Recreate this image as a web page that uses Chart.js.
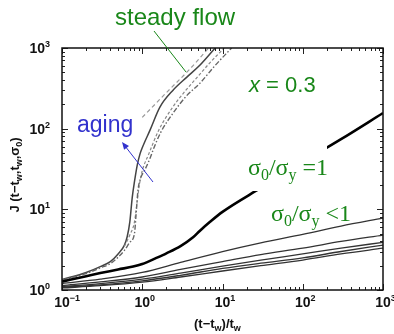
<!DOCTYPE html>
<html>
<head>
<meta charset="utf-8">
<script src="https://cdn.jsdelivr.net/npm/chart.js@4.4.1/dist/chart.umd.min.js"></script>
<style>
  html, body { margin: 0; padding: 0; background: #fff; }
  #wrap { width: 394px; height: 334px; position: relative; }
</style>
</head>
<body>
<div id="wrap"><canvas id="myChart" width="394" height="334"></canvas></div>
<script>
// time axis (t - tw)/tw and tick exponents
const xTickExp = [-1, 0, 1, 2, 3];
const yTickExp = [0, 1, 2, 3];

// sigma0/sigma_y = 1
const tYield = [0.1, 0.2, 0.3, 0.5, 0.77, 1, 1.5, 2, 3, 4.3, 5.2, 7, 10, 30, 100, 300, 1000];
const jYield = [1.27, 1.48, 1.62, 1.8, 1.95, 2.1, 2.5, 2.85, 3.5, 4.5, 5.4, 7.0, 9.3, 18.4, 38.5, 74, 156];

// sigma0/sigma_y < 1 curves share one time grid
const tGrid = [0.1, 0.3, 1, 3, 10, 30, 100, 300, 1000];
const jLow1 = [1.2, 1.36, 1.65, 2.2, 3.0, 3.85, 4.9, 6.2, 7.8];
const jLow2 = [1.14, 1.26, 1.45, 1.8, 2.25, 2.75, 3.3, 4.0, 4.8];
const jLow3 = [1.1, 1.2, 1.36, 1.62, 1.98, 2.35, 2.8, 3.3, 3.9];
const jLow4 = [1.08, 1.16, 1.3, 1.52, 1.85, 2.15, 2.5, 3.0, 3.6];
const jLow5 = [1.06, 1.13, 1.25, 1.45, 1.72, 2.0, 2.35, 2.8, 3.3];

// aging curves (sigma0/sigma_y > 1)
const tAgeSolid = [0.1, 0.2, 0.3, 0.4, 0.5, 0.6, 0.65, 0.7, 0.75, 0.8, 0.87, 0.94, 1.0, 1.25, 1.66, 2.42, 3.6, 5.25, 8.1];
const jAgeSolid = [1.35, 1.65, 1.95, 2.25, 2.8, 3.6, 4.6, 7.0, 14, 22, 36, 49, 58, 96, 185, 300, 436, 614, 1000];
const tAgeDash = [0.6, 0.7, 0.8, 0.86, 0.92, 1.0, 1.2, 1.6, 2.4, 3.5, 5, 7, 10.5];
const jAgeDash = [3.5, 4.8, 7, 12, 20, 30, 48, 95, 185, 300, 450, 660, 1000];
const tAgeDashDot = [0.1, 0.2, 0.3, 0.4, 0.5, 0.6, 0.7, 0.8, 0.84, 0.885, 0.95, 1.08, 1.25, 1.36, 1.7, 2.42, 3.5, 5.25, 8, 13];
const jAgeDashDot = [1.33, 1.6, 1.88, 2.12, 2.55, 3.1, 3.9, 5.0, 9, 17.3, 24, 31, 43, 54, 90, 156, 250, 367, 600, 1000];
const tSteady = [1, 2, 4, 6.7];
const jSteady = [138, 280, 560, 1000];

function pts(t, j) { return t.map((x, i) => ({ x: x, y: j[i] })); }

function line(t, j, color, width, dash) {
    return {
        data: pts(t, j),
        borderColor: color,
        borderWidth: width,
        borderDash: dash || [],
        pointRadius: 0,
        fill: false,
        cubicInterpolationMode: 'monotone'
    };
}

const GREEN = 'rgb(25,135,25)';
const BLUE = 'rgb(50,50,205)';
const SANS = '"Liberation Sans", Arial, sans-serif';
const SERIF = '"Liberation Serif", "Times New Roman", serif';

// draws pieces of text one after another; each piece may be raised or lowered
function richWidth(ctx, parts) {
    let w = 0;
    parts.forEach(p => { ctx.font = p.f; w += ctx.measureText(p.t).width; });
    return w;
}
function drawRich(ctx, parts, x, y) {
    ctx.textBaseline = 'alphabetic';
    ctx.textAlign = 'left';
    parts.forEach(p => {
        ctx.font = p.f;
        ctx.fillText(p.t, x, y + (p.dy || 0));
        x += ctx.measureText(p.t).width;
    });
}

const framePlugin = {
    id: 'frame',
    afterDraw(chart) {
        const ctx = chart.ctx;
        const a = chart.chartArea;
        const xs = chart.scales.x, ys = chart.scales.y;
        ctx.save();

        // inward ticks, major and minor, on all four sides
        ctx.strokeStyle = '#222';
        ctx.lineWidth = 1;
        for (let e = -1; e <= 3; e++) {
            for (let m = 1; m <= 9; m++) {
                const v = m * Math.pow(10, e);
                if (v > 1000) break;
                const px = Math.round(xs.getPixelForValue(v)) + 0.5;
                const len = m === 1 ? 6 : 3;
                ctx.beginPath();
                ctx.moveTo(px, a.bottom); ctx.lineTo(px, a.bottom - len);
                ctx.moveTo(px, a.top); ctx.lineTo(px, a.top + len);
                ctx.stroke();
            }
        }
        for (let e = 0; e <= 3; e++) {
            for (let m = 1; m <= 9; m++) {
                const v = m * Math.pow(10, e);
                if (v > 1000) break;
                const py = Math.round(ys.getPixelForValue(v)) + 0.5;
                const len = m === 1 ? 6 : 3;
                ctx.beginPath();
                ctx.moveTo(a.left, py); ctx.lineTo(a.left + len, py);
                ctx.moveTo(a.right, py); ctx.lineTo(a.right - len, py);
                ctx.stroke();
            }
        }

        // frame
        ctx.strokeStyle = '#111';
        ctx.lineWidth = 1.5;
        ctx.strokeRect(a.left, a.top, a.right - a.left, a.bottom - a.top);

        // tick labels with superscripts
        ctx.fillStyle = '#111';
        const big = 'bold 14px ' + SANS, small = 'bold 9px ' + SANS;
        xTickExp.forEach(e => {
            const px = xs.getPixelForValue(Math.pow(10, e));
            ctx.font = big;
            const w = ctx.measureText('10').width;
            drawRich(ctx, [{ t: '10', f: big }, { t: e < 0 ? '\u2212' + (-e) : '' + e, f: small, dy: -6 }], px - w / 2, 307);
        });
        yTickExp.forEach(e => {
            const py = ys.getPixelForValue(Math.pow(10, e));
            ctx.font = big;
            const w = ctx.measureText('10').width;
            drawRich(ctx, [{ t: '10', f: big }, { t: '' + e, f: small, dy: -6 }], 45 - w, py + 5);
        });

        // axis titles
        const tf = 'bold 13px ' + SANS, sf = 'bold 9px ' + SANS;
        drawRich(ctx, [
            { t: '(t\u2212t', f: tf }, { t: 'w', f: sf, dy: 3 },
            { t: ')/t', f: tf }, { t: 'w', f: sf, dy: 3 }
        ], 194, 328);

        const yParts = [
            { t: 'J (t\u2212t', f: tf }, { t: 'w', f: sf, dy: 3 },
            { t: ',t', f: tf }, { t: 'w', f: sf, dy: 3 },
            { t: ',\u03c3', f: tf }, { t: '0', f: sf, dy: 3 }, { t: ')', f: tf }
        ];
        const yw = richWidth(ctx, yParts);
        ctx.save();
        ctx.translate(19, 175);
        ctx.rotate(-Math.PI / 2);
        drawRich(ctx, yParts, -yw / 2, 0);
        ctx.restore();

        // white box behind the sigma0/sigma_y = 1 label
        ctx.fillStyle = '#fff';
        ctx.fillRect(243, 141, 84, 50);

        // annotations
        ctx.fillStyle = GREEN;
        ctx.font = '24px ' + SANS;
        ctx.textBaseline = 'alphabetic';
        ctx.fillText('steady flow', 115, 25);

        drawRich(ctx, [
            { t: 'x', f: 'italic 22px ' + SANS },
            { t: ' = 0.3', f: '22px ' + SANS }
        ], 249, 92);

        const gf = '24px ' + SERIF, gs = '16px ' + SERIF;
        drawRich(ctx, [
            { t: '\u03c3', f: gf }, { t: '0', f: gs, dy: 5 },
            { t: '/\u03c3', f: gf }, { t: 'y', f: gs, dy: 5 },
            { t: ' =1', f: gf }
        ], 248, 175);
        drawRich(ctx, [
            { t: '\u03c3', f: gf }, { t: '0', f: gs, dy: 5 },
            { t: '/\u03c3', f: gf }, { t: 'y', f: gs, dy: 5 },
            { t: ' <1', f: gf }
        ], 271, 221);

        ctx.fillStyle = BLUE;
        ctx.font = '23px ' + SANS;
        ctx.fillText('aging', 77, 132);

        // green pointer to the steady flow curve
        ctx.strokeStyle = GREEN;
        ctx.lineWidth = 1;
        ctx.beginPath();
        ctx.moveTo(154, 31); ctx.lineTo(186, 72);
        ctx.stroke();

        // blue aging arrow
        ctx.strokeStyle = BLUE;
        ctx.fillStyle = BLUE;
        ctx.beginPath();
        ctx.moveTo(153, 182); ctx.lineTo(125, 146);
        ctx.stroke();
        const ang = Math.atan2(146 - 182, 125 - 153);
        ctx.beginPath();
        ctx.moveTo(122, 142);
        ctx.lineTo(122 - 8 * Math.cos(ang - 0.4), 142 - 8 * Math.sin(ang - 0.4));
        ctx.lineTo(122 - 8 * Math.cos(ang + 0.4), 142 - 8 * Math.sin(ang + 0.4));
        ctx.closePath();
        ctx.fill();

        ctx.restore();
    }
};

const ctx = document.getElementById('myChart').getContext('2d');
new Chart(ctx, {
    type: 'line',
    data: {
        datasets: [
            line(tGrid, jLow5, '#333', 1.3),
            line(tGrid, jLow4, '#333', 1.3),
            line(tGrid, jLow3, '#333', 1.3),
            line(tGrid, jLow2, '#333', 1.3),
            line(tGrid, jLow1, '#333', 1.3),
            line(tYield, jYield, '#000', 2.6),
            line(tSteady, jSteady, '#999', 1.2, [4, 3]),
            line(tAgeDashDot, jAgeDashDot, '#666', 1.4, [5, 2, 1.5, 2]),
            line(tAgeDash, jAgeDash, '#888', 1.2, [3, 2]),
            line(tAgeSolid, jAgeSolid, '#444', 1.5)
        ]
    },
    options: {
        responsive: false,
        animation: false,
        layout: { padding: { left: 62, right: 11, top: 48, bottom: 44 } },
        plugins: { legend: { display: false }, tooltip: { enabled: false } },
        scales: {
            x: { type: 'logarithmic', min: 0.1, max: 1000, display: false },
            y: { type: 'logarithmic', min: 1, max: 1000, display: false }
        }
    },
    plugins: [framePlugin]
});
</script>
</body>
</html>
